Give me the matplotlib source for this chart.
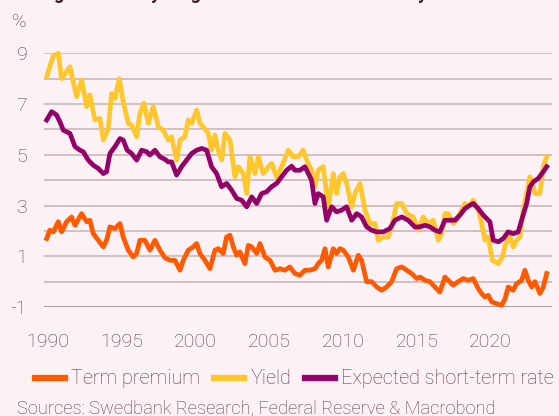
import matplotlib
matplotlib.use("Agg")
import matplotlib.pyplot as plt
from matplotlib.lines import Line2D

plt.rcParams['font.family'] = ['Roboto', 'DejaVu Sans']

title = "Strong rise in 10-year government bond rates and yields"
y_unit = "%"
source = "Sources: Swedbank Research, Federal Reserve & Macrobond"
series_names = ["Term premium", "Yield", "Expected short-term rate"]
x_ticks = [1990, 1995, 2000, 2005, 2010, 2015, 2020]
y_ticks = [-1, 1, 3, 5, 7, 9]

yield_years = [1989.9, 1990.35, 1990.69, 1990.91, 1991.48, 1991.93, 1992.27, 1992.61, 1992.83,
               1993.17, 1993.51, 1993.74, 1994.08, 1994.30, 1994.53, 1994.82, 1995.09, 1995.43,
               1995.66, 1996.0, 1996.22, 1996.49, 1996.79, 1997.13, 1997.47, 1997.80, 1998.14,
               1998.37, 1998.71, 1998.94, 1999.27, 1999.50, 1999.73, 2000.07, 2000.29, 2000.52,
               2000.86, 2001.08, 2001.31, 2001.53, 2001.76, 2001.99, 2002.33, 2002.66, 2002.89,
               2003.23, 2003.46, 2003.68, 2004.02, 2004.25, 2004.58, 2004.92, 2005.15, 2005.49,
               2005.83, 2006.28, 2006.62, 2006.96, 2007.29, 2007.53, 2007.86, 2008.09, 2008.31,
               2008.65, 2008.99, 2009.33, 2009.56, 2009.78, 2010.01, 2010.24, 2010.58, 2010.80,
               2011.14, 2011.48, 2011.82, 2012.16, 2012.38, 2012.72, 2013.06, 2013.29, 2013.63,
               2013.97, 2014.31, 2014.75, 2015.09, 2015.43, 2015.77, 2016.11, 2016.45, 2016.68,
               2016.90, 2017.13, 2017.46, 2017.69, 2018.03, 2018.26, 2018.48, 2018.82, 2019.16,
               2019.39, 2019.61, 2019.84, 2020.11, 2020.52, 2020.79, 2021.02, 2021.31, 2021.53,
               2021.76, 2021.99, 2022.21, 2022.44, 2022.66, 2022.78, 2023.0, 2023.34, 2023.57,
               2023.80]
yield_vals = [8.08, 8.9, 9.0, 8.0, 8.47, 7.29, 7.95, 6.9, 7.36,
              6.37, 6.43, 5.58, 6.04, 7.42, 7.22, 8.0, 7.09, 6.24,
              6.17, 5.71, 6.63, 7.03, 6.24, 6.9, 6.1, 5.97, 5.58,
              5.71, 4.79, 5.58, 5.71, 6.37, 6.24, 6.76, 6.24, 6.1,
              5.84, 5.18, 5.78, 5.18, 4.79, 5.84, 5.58, 4.13, 4.53,
              4.26, 3.47, 4.92, 4.26, 4.92, 4.26, 4.53, 4.66, 4.13,
              4.53, 5.18, 4.92, 4.92, 5.18, 4.79, 4.39, 3.74, 4.39,
              4.53, 2.95, 4.26, 3.47, 4.13, 4.26, 3.87, 2.95, 3.47,
              3.87, 2.82, 2.29, 2.29, 1.63, 1.76, 1.76, 2.16, 3.08,
              3.08, 2.68, 2.55, 2.03, 2.55, 2.29, 2.42, 1.63, 1.89,
              2.68, 2.68, 2.29, 2.42, 2.82, 3.08, 2.95, 3.21, 2.82,
              2.29, 1.63, 1.76, 0.84, 0.71, 0.97, 1.5, 1.76, 1.37,
              1.63, 1.76, 2.82, 3.47, 4.13, 4.0, 3.47, 3.47, 4.53,
              4.92]

exp_years = [1989.9, 1990.24, 1990.57, 1990.80, 1991.03, 1991.48, 1991.82, 1992.16, 1992.38,
             1992.72, 1993.06, 1993.40, 1993.74, 1993.96, 1994.19, 1994.53, 1994.87, 1995.09,
             1995.36, 1995.66, 1996.0, 1996.34, 1996.68, 1996.90, 1997.24, 1997.58, 1997.92,
             1998.14, 1998.37, 1998.71, 1999.05, 1999.39, 1999.73, 2000.07, 2000.41, 2000.75,
             2001.08, 2001.42, 2001.76, 2002.10, 2002.44, 2002.78, 2003.12, 2003.46, 2003.80,
             2004.14, 2004.47, 2004.81, 2005.15, 2005.49, 2005.83, 2006.17, 2006.51, 2006.73,
             2007.07, 2007.41, 2007.64, 2007.86, 2008.09, 2008.31, 2008.65, 2008.88, 2009.22,
             2009.56, 2009.90, 2010.24, 2010.58, 2010.92, 2011.25, 2011.59, 2011.93, 2012.27,
             2012.72, 2013.17, 2013.51, 2013.97, 2014.41, 2014.87, 2015.21, 2015.55, 2015.88,
             2016.22, 2016.56, 2016.90, 2017.24, 2017.58, 2017.92, 2018.26, 2018.60, 2018.82,
             2019.16, 2019.50, 2019.95, 2020.18, 2020.52, 2020.86, 2021.19, 2021.53, 2021.87,
             2022.10, 2022.44, 2022.66, 2022.89, 2023.23, 2023.57, 2023.80]
exp_vals = [6.37, 6.7, 6.57, 6.30, 5.97, 5.84, 5.32, 5.18, 5.12,
            4.79, 4.59, 4.46, 4.26, 4.33, 5.05, 5.32, 5.64, 5.58,
            5.18, 5.05, 4.79, 5.18, 5.12, 4.99, 5.18, 4.92, 4.82,
            4.72, 4.72, 4.20, 4.53, 4.79, 5.05, 5.18, 5.25, 5.18,
            4.53, 4.26, 3.74, 3.87, 3.61, 3.28, 3.21, 2.95, 3.34,
            3.08, 3.47, 3.54, 3.74, 3.87, 4.13, 4.39, 4.55, 4.39,
            4.39, 4.53, 4.26, 4.0, 3.08, 3.47, 3.34, 2.42, 2.95,
            2.75, 2.82, 2.95, 2.42, 2.68, 2.55, 2.16, 2.03, 1.96,
            1.96, 2.09, 2.42, 2.55, 2.42, 2.15, 2.16, 2.22, 2.16,
            2.03, 1.96, 2.42, 2.42, 2.42, 2.62, 2.88, 3.01, 3.08,
            2.88, 2.62, 2.36, 1.63, 1.57, 1.70, 1.96, 1.89, 1.96,
            2.42, 3.08, 3.74, 3.93, 4.07, 4.33, 4.53]

tp_years = [1989.9, 1990.12, 1990.35, 1990.69, 1990.91, 1991.25, 1991.59, 1991.82, 1992.27,
            1992.61, 1992.83, 1993.06, 1993.40, 1993.74, 1993.96, 1994.19, 1994.53, 1994.87,
            1995.09, 1995.43, 1995.77, 1996.0, 1996.22, 1996.56, 1996.90, 1997.24, 1997.58,
            1997.92, 1998.26, 1998.60, 1998.94, 1999.16, 1999.50, 1999.84, 2000.07, 2000.29,
            2000.63, 2000.97, 2001.31, 2001.53, 2001.87, 2002.10, 2002.33, 2002.55, 2002.78,
            2003.0, 2003.34, 2003.57, 2003.80, 2004.14, 2004.36, 2004.70, 2005.04, 2005.38,
            2005.72, 2006.05, 2006.39, 2006.73, 2007.07, 2007.41, 2007.75, 2008.09, 2008.31,
            2008.54, 2008.77, 2008.99, 2009.33, 2009.56, 2009.78, 2010.01, 2010.35, 2010.69,
            2011.03, 2011.25, 2011.59, 2011.93, 2012.27, 2012.61, 2012.95, 2013.29, 2013.63,
            2013.97, 2014.31, 2014.64, 2015.0, 2015.21, 2015.55, 2015.88, 2016.22, 2016.56,
            2016.90, 2017.13, 2017.46, 2017.80, 2018.14, 2018.48, 2018.82, 2019.16, 2019.39,
            2019.61, 2019.84, 2020.07, 2020.41, 2020.75, 2020.98, 2021.19, 2021.53, 2021.76,
            2022.10, 2022.32, 2022.55, 2022.78, 2023.0, 2023.34, 2023.57, 2023.80]
tp_vals = [1.70, 2.03, 1.96, 2.36, 1.96, 2.36, 2.55, 2.22, 2.68,
           2.36, 2.42, 1.89, 1.63, 1.37, 1.63, 2.16, 2.09, 2.29,
           1.76, 1.24, 0.97, 1.11, 1.63, 1.63, 1.24, 1.63, 1.24,
           0.94, 0.84, 0.84, 0.45, 0.84, 1.24, 1.37, 1.5, 1.11,
           0.84, 0.51, 1.24, 1.30, 1.11, 1.76, 1.83, 1.37, 1.04,
           1.17, 0.71, 1.43, 1.37, 1.11, 1.50, 0.97, 0.84, 0.45,
           0.51, 0.45, 0.58, 0.32, 0.25, 0.45, 0.45, 0.51, 0.71,
           0.84, 1.30, 0.58, 1.30, 1.11, 1.30, 1.24, 0.97, 0.45,
           1.04, 0.84, 0.0, 0.0, -0.21, -0.34, -0.21, 0.0, 0.51,
           0.58, 0.45, 0.32, 0.12, 0.18, 0.05, 0.0, -0.21, -0.41,
           0.18, 0.05, -0.14, 0.0, 0.12, 0.05, 0.12, -0.28, -0.47,
           -0.61, -0.54, -0.80, -0.87, -0.93, -0.67, -0.21, -0.34, -0.08,
           0.05, 0.45, 0.05, -0.21, 0.0, -0.47, -0.21, 0.32]

bg = '#fcf1f5'
txt = '#5a3c3c'
c_tp, c_y, c_e = '#ff5a00', '#ffc72c', '#930068'

fig = plt.figure(figsize=(5.59, 4.16), dpi=100, facecolor=bg)
ax = fig.add_axes([44/559, 1-307/416, 508/559, 253.7/416], facecolor=bg)

for v in range(-1, 10):
    ax.axhline(v, color='#a08c8c' if v == -1 else '#cbb8b8', lw=1.2, zorder=1)

lw = 3.4
ax.plot(tp_years, tp_vals, color=c_tp, lw=lw, zorder=3, clip_on=False, solid_joinstyle='round')
ax.plot(yield_years, yield_vals, color=c_y, lw=lw, zorder=3, clip_on=False, solid_joinstyle='round')
ax.plot(exp_years, exp_vals, color=c_e, lw=lw, zorder=4, clip_on=False, solid_joinstyle='round')

ax.set_xlim(1989.72, 2024.16)
ax.set_ylim(-1, 9)
ax.set_xticks(x_ticks)
ax.set_xticklabels([str(t) for t in x_ticks])
ax.set_yticks(y_ticks)
ax.set_yticklabels([str(t) for t in y_ticks])
ax.tick_params(axis='both', length=0, labelsize=14, colors=txt)
ax.tick_params(axis='y', pad=12)
ax.tick_params(axis='x', pad=19)
for lab in ax.get_xticklabels() + ax.get_yticklabels():
    lab.set_fontweight('light')
for s in ax.spines.values():
    s.set_visible(False)

fig.text(12/559, 1-22/416, y_unit, fontsize=14, color=txt, va='center', ha='left', fontweight='light')
fig.text(10/559, 1+1/416, title, fontsize=13, color='#3a2020', fontweight='bold', va='baseline', ha='left')

handles = [Line2D([], [], color=c, lw=4.5) for c in (c_tp, c_y, c_e)]
leg = fig.legend(handles, series_names, loc='center', bbox_to_anchor=(0.527, 1-379/416), ncol=3,
                 frameon=False, handlelength=1.5, handletextpad=0.3,
                 columnspacing=0.72, labelcolor=txt, prop={'weight': 'light', 'size': 14.3})
fig.text(17/559, 1-408/416, source, fontsize=13.15, color=txt, va='center', ha='left', fontweight='light')

fig.savefig('out.png', dpi=100, facecolor=bg)
